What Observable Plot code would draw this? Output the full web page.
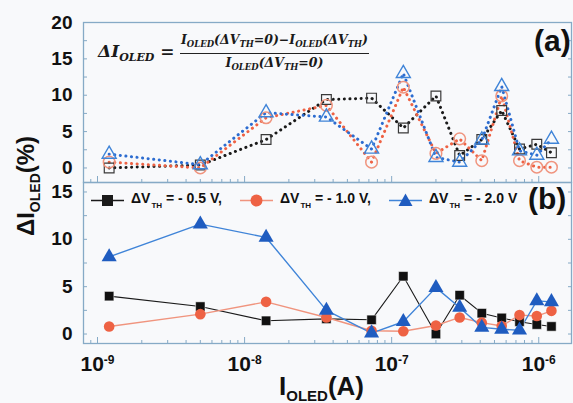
<!DOCTYPE html>
<html><head><meta charset="utf-8">
<script src="https://cdn.jsdelivr.net/npm/d3@7"></script>
<script src="https://cdn.jsdelivr.net/npm/@observablehq/plot@0.6"></script>
<style>
body{margin:0;background:#fff;}
#wrap{position:relative;width:573px;height:403px;background:#f8f9fb;overflow:hidden;font-family:"Liberation Sans",Arial,sans-serif;color:#111;}
#wrap svg{position:absolute;left:0;}
.ov{position:absolute;white-space:nowrap;}
.eq{font-family:"DejaVu Serif",serif;font-weight:bold;font-style:italic;color:#1a1a1a;}
.eq sub{font-size:8.5px;vertical-align:-3px;}
.leg{font-weight:bold;font-size:14px;display:flex;align-items:center;}
.leg sub{font-size:8px;vertical-align:-5px;margin-left:1px;}
.leg svg{position:static !important;margin-right:7px;}
</style></head><body>
<div id="wrap"></div>
<script>
// ---- data ----
const currents = [1.2e-9, 5e-9, 1.4e-8, 3.6e-8, 7.3e-8, 1.2e-7, 2e-7, 2.9e-7, 4.1e-7, 5.6e-7, 7.4e-7, 9.7e-7, 1.22e-6];
// (a) panel, open symbols, dotted lines
const topBlack = [0, 0.4, 3.9, 9.4, 9.6, 5.5, 9.9, 1.7, 3.9, 7.9, 2.6, 3.25, 2.1];
const topRed   = [0.8, 0, 6.9, 8.6, 0.8, 11.1, 2.0, 4.0, 1.0, 9.9, 1.0, 0.1, 0.1];
const topBlue  = [1.9, 0.45, 7.6, 7.0, 2.6, 13.0, 1.45, 0.8, 3.85, 11.2, 2.35, 1.75, 3.95];
// (b) panel, filled symbols, solid lines
const botBlack = [4.0, 2.9, 1.4, 1.6, 1.5, 6.1, 0.0, 4.1, 2.2, 1.7, 1.3, 1.0, 0.8];
const botRed   = [0.8, 2.1, 3.4, 1.75, 0.35, 0.3, 0.9, 1.75, 1.2, 0.85, 2.0, 1.9, 2.45];
const botBlue  = [8.15, 11.6, 10.2, 2.5, 0.1, 1.3, 4.9, 2.8, 0.7, 0.5, 0.4, 3.5, 3.4];
const seriesLabels = ["- 0.5 V,", "- 1.0 V,", "- 2.0 V"];
const topYTicks = [0, 5, 10, 15, 20];
const botYTicks = [0, 5, 10, 15];
const xMajor = [1e-9, 1e-8, 1e-7, 1e-6];

// ---- styling ----
const axisColor = "#86aac6";
const cBlack = "#1a1a1a", cRed = "#ee6244", cRedLt = "#f0947e", cBlue = "#2c6cd0", cBlueLt = "#3f84d8";
const xDomain = [8.03e-10, 1.67e-6];
const xMinor = [];
for (let e = -10; e <= -6; e++) for (let m = 2; m <= 9; m++) { const v = m * Math.pow(10, e); if (v > xDomain[0] && v < xDomain[1]) xMinor.push(v); }
const minorY = (lo, hi) => d3.range(lo, hi + 0.01, 2.5);

const rows = (ys) => currents.map((x, i) => ({x, y: ys[i]}));
const wrap = document.getElementById("wrap");
const common = {width: 573, marginLeft: 83, marginRight: 2,
  style: {fontFamily: '"Liberation Sans", Arial, sans-serif', fontWeight: "bold", fontSize: "19px", color: "#111", background: "transparent", overflow: "visible"}};

function frameAxes(yMaj, yMin) {
  return [
    Plot.frame({stroke: axisColor, strokeWidth: 1.3}),
    Plot.axisY(yMaj, {tickSize: 0, tickPadding: 11, label: null, fill: "#111"}),
    Plot.axisY(yMin, {tickSize: -4, tickFormat: () => "", stroke: axisColor, label: null}),
    Plot.axisY(yMin, {anchor: "right", tickSize: -4, tickFormat: () => "", stroke: axisColor, label: null}),
    Plot.axisX(xMajor, {tickSize: -6, tickFormat: () => "", stroke: axisColor, label: null}),
    Plot.axisX(xMinor, {tickSize: -3, tickFormat: () => "", stroke: axisColor, label: null})
  ];
}

// ---- (a) top panel ----
const dotted = {strokeWidth: 3, strokeDasharray: "0.1 5.5", strokeLinecap: "round"};
const topSvg = Plot.plot({
  ...common, height: 182, marginTop: 22, marginBottom: 0,
  x: {type: "log", domain: xDomain, axis: null},
  y: {domain: [-2, 20], axis: null},
  marks: [
    ...frameAxes(topYTicks, minorY(0, 20)),
    Plot.line(rows(topBlack), {x: "x", y: "y", stroke: cBlack, ...dotted}),
    Plot.line(rows(topRed), {x: "x", y: "y", stroke: cRed, ...dotted}),
    Plot.line(rows(topBlue), {x: "x", y: "y", stroke: cBlue, ...dotted}),
    Plot.dot(rows(topBlack), {x: "x", y: "y", symbol: "square", r: 5.5, stroke: "#3a3a3a", strokeWidth: 1.2, fill: "none"}),
    Plot.dot(rows(topRed), {x: "x", y: "y", symbol: "circle", r: 5.8, stroke: cRedLt, strokeWidth: 1.5, fill: "none"}),
    Plot.dot(rows(topBlue), {x: "x", y: "y", symbol: "triangle", r: 5.2, stroke: cBlueLt, strokeWidth: 1.4, fill: "none"})
  ]
});
topSvg.style.top = "0px";
wrap.appendChild(topSvg);

// ---- (b) bottom panel ----
const botSvg = Plot.plot({
  ...common, height: 221, marginTop: 0, marginBottom: 60,
  x: {type: "log", domain: xDomain, axis: null},
  y: {domain: [-1, 16], axis: null},
  marks: [
    ...frameAxes(botYTicks, minorY(0, 15)),
    Plot.axisX(xMajor, {tickSize: 0, tickPadding: 13, fontSize: 21, fill: "#111", label: null,
      tickFormat: d => "10^" + Math.round(Math.log10(d))}),
    Plot.line(rows(botBlack), {x: "x", y: "y", stroke: cBlack, strokeWidth: 1.1}),
    Plot.line(rows(botRed), {x: "x", y: "y", stroke: cRedLt, strokeWidth: 1.4}),
    Plot.line(rows(botBlue), {x: "x", y: "y", stroke: cBlueLt, strokeWidth: 1.4}),
    Plot.dot(rows(botBlack), {x: "x", y: "y", symbol: "square", r: 5.3, fill: "#111", stroke: "#fff", strokeWidth: 0.5}),
    Plot.dot(rows(botRed), {x: "x", y: "y", symbol: "circle", r: 5.3, fill: cRed}),
    Plot.dot(rows(botBlue), {x: "x", y: "y", symbol: "triangle", r: 5.6, fill: "#1f5cc0"})
  ]
});
botSvg.style.top = "182px";
wrap.appendChild(botSvg);
// superscript exponents on x tick labels
d3.select(botSvg).selectAll('g[aria-label="x-axis tick label"] text').each(function() {
  const t = d3.select(this); const s = t.text(); if (!s.includes("^")) return;
  const [b, e] = s.split("^");
  t.text(b); t.append("tspan").attr("dy", "-0.6em").attr("font-size", "12px").text(e);
});

// ---- overlays: labels, equation, legend ----
function ov(html, css, cls) { const d = document.createElement("div"); d.className = "ov" + (cls ? " " + cls : ""); d.style.cssText = css; d.innerHTML = html; wrap.appendChild(d); return d; }
ov("(a)", "left:534px;top:24px;font-size:30px;font-weight:bold;");
ov("(b)", "left:528px;top:182px;font-size:30px;font-weight:bold;");
ov('ΔI<sub style="font-size:14px;vertical-align:-6px">OLED</sub>(%)',
   "left:27px;top:186px;font-size:24px;font-weight:bold;transform:translate(-50%,-50%) rotate(-90deg);");
ov('I<sub style="font-size:15px;vertical-align:-6px">OLED</sub>(A)',
   "left:279px;top:371px;font-size:26px;font-weight:bold;");
// equation
ov('<span style="font-size:17px">ΔI<sub style="font-size:11px;vertical-align:-4px">OLED</sub> =</span>',
   "left:98px;top:41px;", "eq");
ov('<div style="text-align:center;font-size:12.5px;line-height:15px;"><div style="border-bottom:1.6px solid #222;padding:0 1px 1px 1px;">I<sub>OLED</sub>(ΔV<sub>TH</sub>=0)−I<sub>OLED</sub>(ΔV<sub>TH</sub>)</div><div style="padding-top:1px">I<sub>OLED</sub>(ΔV<sub>TH</sub>=0)</div></div>',
   "left:180px;top:32px;", "eq");
// legend
const legColors = [[cBlack, cBlack, "square"], [cRedLt, cRed, "circle"], [cBlueLt, "#1f5cc0", "triangle"]];
const legLeft = [91, 240, 389];
seriesLabels.forEach((lab, i) => {
  const [lc, fc, sym] = legColors[i];
  let m = sym === "square" ? `<rect x="11" y="2" width="11" height="11" fill="${fc}"/>`
        : sym === "circle" ? `<circle cx="16.5" cy="7.5" r="6" fill="${fc}"/>`
        : `<path d="M16.5,0.5 L23.5,13 L9.5,13 Z" fill="${fc}"/>`;
  ov(`<svg width="33" height="15"><line x1="0" x2="33" y1="7.5" y2="7.5" stroke="${lc}" stroke-width="1.5"/>${m}</svg><span>ΔV<sub>TH</sub> = ${lab}</span>`,
     `left:${legLeft[i]}px;top:190px;`, "leg");
});
</script>
</body></html>
